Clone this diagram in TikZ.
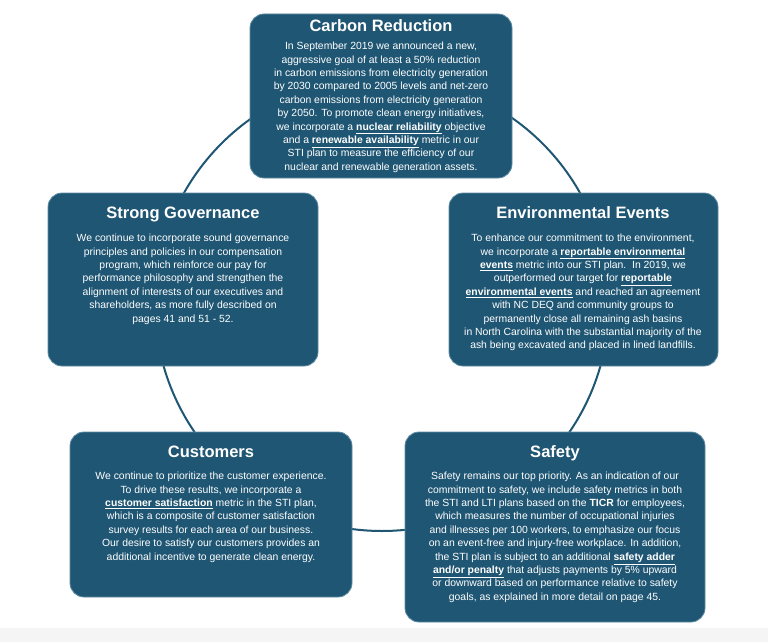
\documentclass[tikz,border=0pt]{standalone}
\usepackage{fontspec}
\setmainfont{Liberation Sans}
\definecolor{boxc}{HTML}{1F5673}
\definecolor{edgec}{HTML}{5F8DA5}
\begin{document}
\begin{tikzpicture}[x=1pt,y=-1pt,
  box/.style={draw=edgec,line width=0.8pt,fill=boxc,rounded corners=14pt},
  ttl/.style={text=white,font=\fontsize{16.5}{18}\selectfont\bfseries,anchor=north},
  body/.style={text=white,font=\fontsize{10.4}{13.4}\selectfont,align=center,anchor=north,inner sep=0pt}]
\newcommand{\ub}[1]{\textbf{\underline{#1}}}
\fill[white] (0,0) rectangle (768,642);
\fill[black!4] (0,628) rectangle (768,642);
\draw[boxc,line width=2pt] (382,304) circle (227);
% Carbon
\draw[box] (250,14) rectangle (512,178);
\node[ttl] (t1) at (381,16) {Carbon Reduction};
\node[body] (b1) at (381,42) {In September 2019 we announced a new,\\aggressive goal of at least a 50\% reduction\\in carbon emissions from electricity generation\\by 2030 compared to 2005 levels and net-zero\\carbon emissions from electricity generation\\by 2050. To promote clean energy initiatives,\\we incorporate a \ub{nuclear reliability} objective\\and a \ub{renewable availability} metric in our\\STI plan to measure the efficiency of our\\nuclear and renewable generation assets.};
% Governance
\draw[box] (48,193) rectangle (318,366);
\node[ttl] (t2) at (183,203) {Strong Governance};
\node[body] (b2) at (183,234) {We continue to incorporate sound governance\\principles and policies in our compensation\\program, which reinforce our pay for\\performance philosophy and strengthen the\\alignment of interests of our executives and\\shareholders, as more fully described on\\pages 41 and 51 - 52.};
% Environmental
\draw[box] (449,193) rectangle (718,366);
\node[ttl] (t3) at (583,203) {Environmental Events};
\node[body] (b3) at (583,234) {To enhance our commitment to the environment,\\we incorporate a \ub{reportable environmental}\\\ub{events} metric into our STI plan.\ \ In 2019, we\\outperformed our target for \ub{reportable}\\\ub{environmental events} and reached an agreement\\with NC DEQ and community groups to\\permanently close all remaining ash basins\\in North Carolina with the substantial majority of the\\ash being excavated and placed in lined landfills.};
% Customers
\draw[box] (70,432) rectangle (352,597);
\node[ttl] (t4) at (211,442) {Customers};
\node[body] (b4) at (211,472) {We continue to prioritize the customer experience.\\To drive these results, we incorporate a\\\ub{customer satisfaction} metric in the STI plan,\\which is a composite of customer satisfaction\\survey results for each area of our business.\\Our desire to satisfy our customers provides an\\additional incentive to generate clean energy.};
% Safety
\draw[box] (405,432) rectangle (705,622);
\node[ttl] (t5) at (555,442) {Safety};
\node[body] (b5) at (555,472) {Safety remains our top priority. As an indication of our\\commitment to safety, we include safety metrics in both\\the STI and LTI plans based on the \textbf{TICR} for employees,\\which measures the number of occupational injuries\\and illnesses per 100 workers, to emphasize our focus\\on an event-free and injury-free workplace. In addition,\\the STI plan is subject to an additional \ub{safety adder}\\\ub{and/or penalty} that adjusts payments by 5\% upward\\or downward based on performance relative to safety\\goals, as explained in more detail on page 45.};
\end{tikzpicture}
\end{document}
